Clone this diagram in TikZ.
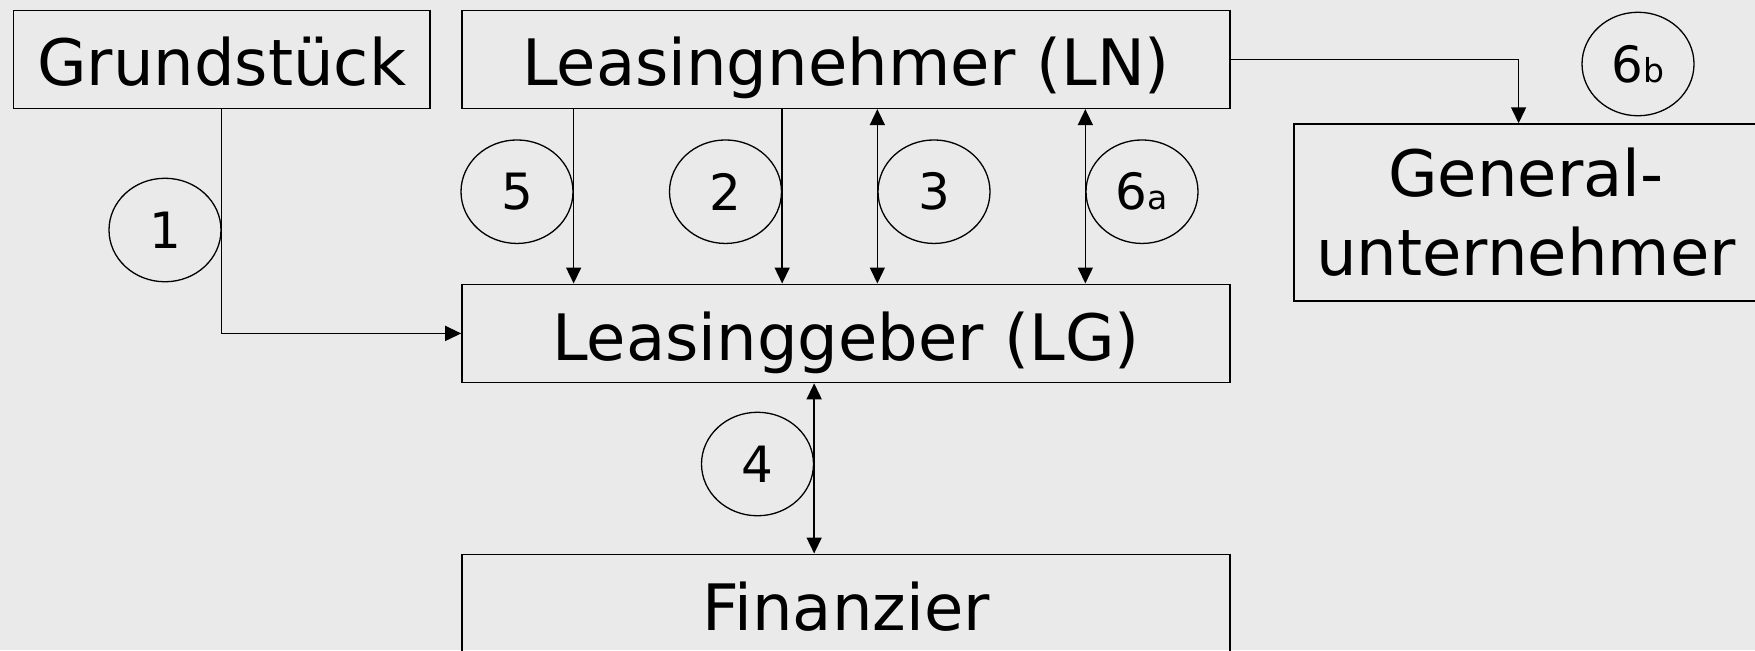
\documentclass[tikz,border=0pt]{standalone}
\usepackage{fontspec}
\setmainfont{DejaVu Sans}
\usetikzlibrary{arrows.meta,shapes.geometric,calc}
\definecolor{bg}{RGB}{234,234,234}
\newcommand{\numfont}{\fontsize{25}{30}\selectfont}
\newcommand{\subfont}{\fontsize{16.5}{20}\selectfont}
\tikzset{
  box/.style={draw=black, line width=0.8pt, rectangle, inner sep=0pt,
    align=center, font=\fontsize{32}{39.5}\selectfont},
  onebox/.style={box, text height=26.6pt, text depth=0pt},
  num/.style={draw=black, line width=0.65pt, ellipse, inner sep=0pt,
    minimum width=56pt, minimum height=51.75pt, font=\numfont},
  link/.style={line width=0.75pt, -{Triangle[length=8pt,width=7.5pt]}},
  dlink/.style={line width=0.75pt,
    {Triangle[length=8pt,width=7.5pt]}-{Triangle[length=8pt,width=7.5pt]}}
}
\begin{document}
\begin{tikzpicture}[x=0.5pt, y=-0.5pt]
  \useasboundingbox[fill=bg] (0,0) rectangle (1755,650);

  % boxes
  \node[onebox, minimum width=208.3pt, minimum height=49pt] (G)  at (221.7,59.3) {Grundstück};
  \node[onebox, minimum width=384pt, minimum height=49pt]   (LN) at (846,59.3)   {Leasingnehmer (LN)};
  \node[onebox, minimum width=384pt, minimum height=49.1pt] (LG) at (846,333.4)  {Leasinggeber (LG)};
  \node[onebox, minimum width=384pt, minimum height=49.1pt] (F)  at (846,603.4)  {Finanzier};
  \node[box, minimum width=232pt, minimum height=88.35pt] (GU) at (1526,212.4) {General-\\unternehmer};

  % numbered markers
  \node[num] (n1)  at (165,230)    {1};
  \node[num] (n5)  at (517,191.7)  {5};
  \node[num] (n2)  at (725.5,191.7){2};
  \node[num] (n3)  at (934,191.7)  {3};
  \node[num] (n6a) at (1142,191.7) {6{\subfont a}};
  \node[num] (n4)  at (757.5,464)  {4};
  \node[num] (n6b) at (1638,64)    {6{\subfont b}};

  % connectors
  \draw[link] (G.south) |- (LG.west);
  \draw[link] (LN.south -| n5.east) -- (LG.north -| n5.east);
  \draw[link] (LN.south -| n2.east) -- (LG.north -| n2.east);
  \draw[dlink] (LN.south -| n3.west) -- (LG.north -| n3.west);
  \draw[dlink] (LN.south -| n6a.west) -- (LG.north -| n6a.west);
  \draw[dlink] (LG.south -| n4.east) -- (F.north -| n4.east);
  \coordinate (gutop) at ($(GU.north)+(-7.4,0)$);
  \draw[link] (LN.east) -| (gutop);
\end{tikzpicture}
\end{document}
